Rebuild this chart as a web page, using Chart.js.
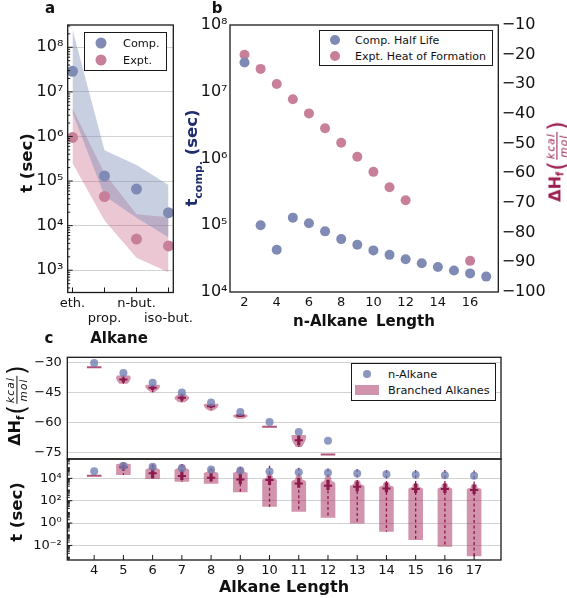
<!DOCTYPE html>
<html>
<head>
<meta charset="utf-8">
<title>Alkane half lives and heats of formation</title>
<script src="https://cdn.jsdelivr.net/npm/chart.js@4.4.0/dist/chart.umd.min.js"></script>
<style>
  html, body { margin: 0; padding: 0; background: #fff; }
  #fig { position: relative; width: 567px; height: 598px; overflow: hidden;
         font-family: "DejaVu Sans", sans-serif; color: #111; }
  #fig canvas { position: absolute; }
  .t { position: absolute; white-space: nowrap; line-height: 1; }
  .c { transform: translate(-50%, -50%); }
  .r { transform: translate(-50%, -50%) rotate(-90deg); }
  .b { font-weight: bold; }
  .box { position: absolute; border: 1.3px solid #1a1a1a; background: #fff; box-sizing: border-box; }
  .dot { position: absolute; border-radius: 50%; transform: translate(-50%, -50%); }
  .leg { position: absolute; font-size: 11.3px; transform: translateY(-50%); white-space: nowrap; }
  .dh { display: inline-flex; align-items: center; font-weight: bold; }
  .dh sub { font-size: 62%; vertical-align: -0.35em; }
  .paren { font-weight: normal; font-size: 25px; line-height: 1; margin: 0 1px; }
  .frac { display: inline-flex; flex-direction: column; align-items: center; font-style: italic;
          font-weight: normal; font-size: 10.5px; letter-spacing: 1.2px; line-height: 1.15; }
  .frac span:first-child { border-bottom: 1.4px solid currentColor; padding: 0 1px; }
</style>
</head>
<body>
<div id="fig">
  <canvas id="chartA" width="205" height="330" style="left:0;top:0"></canvas>
  <canvas id="chartB" width="387" height="315" style="left:180px;top:0"></canvas>
  <canvas id="chartC1" width="567" height="140" style="left:0;top:340px"></canvas>
  <canvas id="chartC2" width="567" height="158" style="left:0;top:440px"></canvas>

  <!-- panel letters and axis titles -->
  <div class="t c b" style="left:50px;top:8px;font-size:15px">a</div>
  <div class="t c b" style="left:217px;top:8px;font-size:15px">b</div>
  <div class="t c b" style="left:49px;top:338px;font-size:15px">c</div>

  <div class="t r b" style="left:27px;top:163px;font-size:16.5px">t (sec)</div>
  <div class="t c b" style="left:119px;top:338px;font-size:15px">Alkane</div>

  <div class="t r b" style="left:194px;top:158px;font-size:16.5px;color:#1f2d6e">t<sub style="font-size:11px">comp.</sub> (sec)</div>
  <div class="t r" style="left:557px;top:161px;color:#9a1d50">
    <span class="dh"><span style="font-size:16px">ΔH<sub>f</sub></span><span class="paren">(</span><span class="frac"><span>kcal</span><span>mol</span></span><span class="paren">)</span></span>
  </div>
  <div class="t c b" style="left:364px;top:321px;font-size:15px;word-spacing:3px">n-Alkane Length</div>

  <div class="t r" style="left:17px;top:405px">
    <span class="dh"><span style="font-size:16px">ΔH<sub>f</sub></span><span class="paren">(</span><span class="frac"><span>kcal</span><span>mol</span></span><span class="paren">)</span></span>
  </div>
  <div class="t r b" style="left:17px;top:512px;font-size:16.5px">t (sec)</div>
  <div class="t c b" style="left:284px;top:587px;font-size:16px">Alkane Length</div>

  <!-- legends -->
  <div class="box" style="left:84px;top:31.5px;width:83px;height:39px"></div>
  <div class="dot" style="left:101px;top:42.5px;width:11px;height:11px;background:#7f8bb4"></div>
  <div class="dot" style="left:101px;top:60px;width:11px;height:11px;background:#c8809a"></div>
  <div class="leg" style="left:123px;top:42.5px">Comp.</div>
  <div class="leg" style="left:123px;top:60px">Expt.</div>

  <div class="box" style="left:319px;top:30px;width:174px;height:36px"></div>
  <div class="dot" style="left:335px;top:39.5px;width:10px;height:10px;background:#7f8bb4"></div>
  <div class="dot" style="left:335px;top:56px;width:10px;height:10px;background:#c8809a"></div>
  <div class="leg" style="left:355px;top:39.5px;font-size:11px">Comp. Half Life</div>
  <div class="leg" style="left:355px;top:56px;font-size:11px">Expt. Heat of Formation</div>

  <div class="box" style="left:350.5px;top:363px;width:145.5px;height:38px"></div>
  <div class="dot" style="left:367px;top:374px;width:8px;height:8px;background:#8a96bf"></div>
  <div style="position:absolute;left:355px;top:385px;width:24px;height:9.5px;background:rgba(165,40,90,0.5)"></div>
  <div class="leg" style="left:388px;top:374px">n-Alkane</div>
  <div class="leg" style="left:388px;top:390px">Branched Alkanes</div>
</div>

<script>
// ---- panel a: small alkanes ----
const alkaneNames = ['eth.', 'prop.', 'n-but.', 'iso-but.'];
const compHalfLife = [2.9e7, 1.3e5, 6.6e4, 1.95e4];
const exptHalfLife = [9.5e5, 4.5e4, 5.0e3, 3.5e3];
const compBandHigh = [2.5e8, 4.9e5, 2.3e5, 8.1e4];
const compBandLow = [3.4e6, 4.7e4, 1.5e4, 5.5e3];
const exptBandHigh = [4.2e6, 1.5e5, 1.8e4, 1.55e4];
const exptBandLow = [2.5e5, 1.3e4, 1.9e3, 9.0e2];

// ---- panel b: n-alkanes ----
const chainLength = [2, 3, 4, 5, 6, 7, 8, 9, 10, 11, 12, 13, 14, 15, 16, 17];
const compHalfLifeN = [2.75e7, 1.0e5, 4.3e4, 1.3e5, 1.07e5, 8.1e4, 6.2e4, 5.1e4,
                       4.2e4, 3.6e4, 3.1e4, 2.7e4, 2.37e4, 2.1e4, 1.9e4, 1.7e4];
const heatLength = [2, 3, 4, 5, 6, 7, 8, 9, 10, 11, 12, 16];
const heatFormation = [-20.0, -24.8, -29.9, -35.0, -39.8, -44.8, -49.7, -54.4, -59.5, -64.7, -69.1, -89.5];
const lengthTicks = [2, 4, 6, 8, 10, 12, 14, 16];

// ---- panel c (top): heats of formation, n-alkane vs branched isomers ----
const heatBrLength = [4, 5, 6, 7, 8, 9, 10, 11, 12];
const nAlkaneHeat = [-30.0, -35.1, -39.9, -44.8, -49.8, -54.6, -59.6, -64.7, -69.1];
const heatBrMax = [-32.2, -36.3, -41.0, -45.5, -50.5, -55.5, -62.0, -66.2, -76.0];
const heatBrMin = [-32.2, -40.5, -44.7, -49.7, -53.9, -58.0, -62.0, -72.2, -76.0];
const heatBrMode = [-32.2, -37.3, -41.6, -47.6, -51.2, -56.6, -62.0, -67.0, -76.0];
const heatBrDensTop = [1, 0.85, 0.9, 0.35, 0.9, 0.5, 1, 0.95, 1];
const heatBrDensBot = [1, 0.55, 0.25, 0.4, 0.35, 0.4, 1, 0.4, 1];
const heatBrMedian = [-32.2, -38.3, -42.5, -47.5, -51.7, -56.5, -62.0, -68.8, -76.0];
const heatBrQ3 = [-32.2, -37.3, -41.6, -46.2, -50.9, -55.9, -62.0, -66.6, -76.0];
const heatBrQ1 = [-32.2, -39.8, -43.6, -48.8, -52.8, -57.2, -62.0, -71.5, -76.0];
const heatTicks = [-30, -45, -60, -75];

// ---- panel c (bottom): half lives, log10(seconds) for branched isomers ----
const brLength = [4, 5, 6, 7, 8, 9, 10, 11, 12, 13, 14, 15, 16, 17];
const brTopLog = [4.24, 5.43, 5.25, 5.28, 4.89, 4.95, 4.36, 4.30, 4.24, 3.85, 3.70, 3.55, 3.55, 3.50];
const brShoulderLog = [4.24, 5.25, 4.75, 4.75, 4.45, 4.45, 3.85, 3.70, 3.55, 3.30, 3.20, 3.05, 3.05, 3.00];
const brMinLog = [4.24, 4.30, 3.94, 3.70, 3.52, 2.75, 1.46, 1.01, 0.48, -0.03, -0.78, -1.52, -2.12, -2.96];
const brMaxLog = [4.24, 5.43, 5.25, 5.28, 4.95, 5.04, 5.13, 4.95, 4.89, 4.83, 4.74, 4.74, 4.74, 4.70];
const brMedianLog = [4.24, 5.00, 4.45, 4.21, 4.06, 3.90, 3.85, 3.55, 3.34, 3.25, 3.10, 3.04, 3.04, 2.95];
const brQ3Log = [4.24, 5.20, 4.89, 4.75, 4.45, 4.40, 4.24, 4.05, 3.85, 3.70, 3.60, 3.55, 3.55, 3.45];
const brQ1Log = [4.24, 4.70, 4.00, 3.85, 3.75, 3.50, 3.40, 3.15, 2.95, 2.85, 2.75, 2.70, 2.70, 2.60];
const halfLifeTicks = [1e-2, 1, 1e2, 1e4];

// ---- styles ----
const FONT = "'DejaVu Sans', sans-serif";
const INK = '#111';
const GRID = '#d2d2d2';
const DOT_BLUE = '#7f8bb4';
const DOT_PINK = '#c8809a';
const DOT_C = 'rgba(110, 126, 175, 0.78)';
const BAND_BLUE = 'rgba(110, 130, 175, 0.38)';
const BAND_PINK = 'rgba(190, 70, 110, 0.3)';
const BODY = 'rgba(165, 40, 90, 0.5)';
const CRIMSON = '#8c1a4c';

Chart.defaults.font.family = FONT;
Chart.defaults.color = INK;

const SUP = { '0': '⁰', '1': '¹', '2': '²', '3': '³', '4': '⁴', '5': '⁵', '6': '⁶', '7': '⁷', '8': '⁸', '9': '⁹', '-': '⁻' };
const pow10 = v => '10' + String(Math.round(Math.log10(v))).split('').map(c => SUP[c]).join('');
const minus = v => (v < 0 ? '−' + Math.abs(v) : String(v));

function minorLog(lo, hi) {
  const out = [];
  for (let e = Math.floor(Math.log10(lo)); e <= Math.ceil(Math.log10(hi)); e++) {
    for (let k = 2; k <= 9; k++) {
      const v = k * 10 ** e;
      if (v > lo && v < hi) out.push(v);
    }
  }
  return out;
}

// box round the plot area
const frame = {
  id: 'frame',
  afterDraw(chart) {
    const { ctx, chartArea: a } = chart;
    ctx.save();
    ctx.strokeStyle = '#1a1a1a';
    ctx.lineWidth = 1.3;
    ctx.strokeRect(a.left, a.top, a.right - a.left, a.bottom - a.top);
    ctx.restore();
  }
};

// small tick marks pointing into the plot
const innerTicks = {
  id: 'innerTicks',
  afterDraw(chart, args, opts) {
    const { ctx, chartArea: a } = chart;
    const xs = chart.scales.x, ys = chart.scales.y;
    ctx.save();
    ctx.strokeStyle = '#1a1a1a';
    ctx.lineWidth = 1;
    ctx.beginPath();
    (opts.yMajor || []).forEach(v => {
      const p = ys.getPixelForValue(v);
      ctx.moveTo(a.left, p); ctx.lineTo(a.left + 5, p);
    });
    (opts.yMinor || []).forEach(v => {
      const p = ys.getPixelForValue(v);
      ctx.moveTo(a.left, p); ctx.lineTo(a.left + 2.5, p);
    });
    (opts.xMajor || []).forEach(v => {
      const p = xs.getPixelForValue(v);
      ctx.moveTo(p, a.bottom); ctx.lineTo(p, a.bottom - 5);
    });
    ctx.stroke();
    ctx.restore();
  }
};

function drawBody(ctx, xs, ys, cx, profile) {
  const half = 0.25;
  ctx.beginPath();
  profile.forEach(([v, w], i) => {
    const px = xs.getPixelForValue(cx + w * half), py = ys.getPixelForValue(v);
    if (i) ctx.lineTo(px, py); else ctx.moveTo(px, py);
  });
  for (let i = profile.length - 1; i >= 0; i--) {
    const [v, w] = profile[i];
    ctx.lineTo(xs.getPixelForValue(cx - w * half), ys.getPixelForValue(v));
  }
  ctx.closePath();
  ctx.fillStyle = BODY;
  ctx.fill();
}

function drawMarks(ctx, xs, ys, cx, lo, hi, q1, q3, med) {
  const x = xs.getPixelForValue(cx);
  ctx.strokeStyle = CRIMSON;
  ctx.lineWidth = 1.3;
  ctx.setLineDash([3, 2.5]);
  ctx.beginPath();
  ctx.moveTo(x, ys.getPixelForValue(hi)); ctx.lineTo(x, ys.getPixelForValue(lo));
  ctx.stroke();
  ctx.setLineDash([]);
  ctx.lineWidth = 3.2;
  ctx.beginPath();
  ctx.moveTo(x, ys.getPixelForValue(q3)); ctx.lineTo(x, ys.getPixelForValue(q1));
  ctx.stroke();
  ctx.lineWidth = 2;
  ctx.beginPath();
  const y = ys.getPixelForValue(med);
  ctx.moveTo(xs.getPixelForValue(cx - 0.14), y); ctx.lineTo(xs.getPixelForValue(cx + 0.14), y);
  ctx.stroke();
}

function drawFlat(ctx, xs, ys, cx, v) {
  const y = ys.getPixelForValue(v);
  ctx.strokeStyle = 'rgba(150, 25, 75, 0.75)';
  ctx.lineWidth = 2;
  ctx.beginPath();
  ctx.moveTo(xs.getPixelForValue(cx - 0.25), y); ctx.lineTo(xs.getPixelForValue(cx + 0.25), y);
  ctx.stroke();
}

const heatViolins = {
  id: 'heatViolins',
  beforeDatasetsDraw(chart) {
    const { ctx, chartArea: a } = chart;
    const xs = chart.scales.x, ys = chart.scales.y;
    ctx.save();
    ctx.beginPath(); ctx.rect(a.left, a.top, a.right - a.left, a.bottom - a.top); ctx.clip();
    heatBrLength.forEach((n, i) => {
      if (heatBrMax[i] === heatBrMin[i]) { drawFlat(ctx, xs, ys, n, heatBrMax[i]); return; }
      const prof = [], steps = 16;
      for (let k = 0; k <= steps; k++) {
        const t = k / steps;
        prof.push([heatBrMin[i] + t * (heatBrMode[i] - heatBrMin[i]),
                   heatBrDensBot[i] + (1 - heatBrDensBot[i]) * Math.sin(t * Math.PI / 2)]);
      }
      for (let k = 1; k <= steps; k++) {
        const t = k / steps;
        prof.push([heatBrMode[i] + t * (heatBrMax[i] - heatBrMode[i]),
                   1 - (1 - heatBrDensTop[i]) * (1 - Math.cos(t * Math.PI / 2))]);
      }
      drawBody(ctx, xs, ys, n, prof);
      drawMarks(ctx, xs, ys, n, heatBrMin[i], heatBrMax[i], heatBrQ1[i], heatBrQ3[i], heatBrMedian[i]);
    });
    ctx.restore();
  }
};

const lifeViolins = {
  id: 'lifeViolins',
  beforeDatasetsDraw(chart) {
    const { ctx, chartArea: a } = chart;
    const xs = chart.scales.x, ys = chart.scales.y;
    const smooth = t => t * t * (3 - 2 * t);
    ctx.save();
    ctx.beginPath(); ctx.rect(a.left, a.top, a.right - a.left, a.bottom - a.top); ctx.clip();
    brLength.forEach((n, i) => {
      if (brTopLog[i] === brMinLog[i]) { drawFlat(ctx, xs, ys, n, 10 ** brTopLog[i]); return; }
      const prof = [[10 ** brMinLog[i], 1], [10 ** brShoulderLog[i], 1]];
      const steps = 24;
      for (let k = 1; k <= steps; k++) {
        const t = k / steps;
        const neck = 0.45 + 0.55 * (1 - smooth(Math.min(t / 0.45, 1)));
        const w = neck * Math.sqrt(Math.max(0, 1 - t ** 6));
        prof.push([10 ** (brShoulderLog[i] + t * (brTopLog[i] - brShoulderLog[i])), w]);
      }
      drawBody(ctx, xs, ys, n, prof);
      drawMarks(ctx, xs, ys, n, 10 ** brMinLog[i], 10 ** brMaxLog[i],
                10 ** brQ1Log[i], 10 ** brQ3Log[i], 10 ** brMedianLog[i]);
    });
    ctx.restore();
  }
};

const base = {
  responsive: false,
  animation: false,
  events: [],
  plugins: { legend: { display: false }, tooltip: { enabled: false } }
};
const smallTick = { family: FONT, size: 13, lineHeight: 1.1 };
const bigTick = { family: FONT, size: 16 };

const pts = (xs, ys) => ys.map((y, i) => ({ x: xs[i], y }));
const band = (vals, color, fill) => ({
  type: 'line', data: vals.map((y, i) => ({ x: i, y })), fill, backgroundColor: color,
  borderColor: 'transparent', borderWidth: 0, pointRadius: 0, tension: 0, order: 2
});
const dots = (data, color, r, axis) => ({
  type: 'scatter', data, backgroundColor: color, borderWidth: 0, pointRadius: r,
  yAxisID: axis || 'y', order: 0
});

// ---- panel a ----
new Chart(document.getElementById('chartA'), {
  type: 'line',
  data: {
    datasets: [
      band(compBandHigh, BAND_BLUE, '+1'),
      band(compBandLow, 'transparent', false),
      band(exptBandHigh, BAND_PINK, '+1'),
      band(exptBandLow, 'transparent', false),
      dots(compHalfLife.map((y, i) => ({ x: i, y })), DOT_BLUE, 5.5),
      dots(exptHalfLife.map((y, i) => ({ x: i, y })), DOT_PINK, 5.5)
    ]
  },
  options: {
    ...base,
    layout: { padding: { left: 0, top: 25, right: 31.7, bottom: 0 } },
    scales: {
      x: {
        type: 'linear', min: -0.15, max: 3.15,
        afterBuildTicks: s => { s.ticks = alkaneNames.map((n, i) => ({ value: i })); },
        afterFit: s => { s.height = 37.5; },
        grid: { display: false, drawTicks: false }, border: { display: false },
        ticks: { font: smallTick, padding: 4.3, autoSkip: false, maxRotation: 0,
                 callback: v => (v % 2 ? ['', alkaneNames[v]] : alkaneNames[v]) }
      },
      y: {
        type: 'logarithmic', min: 10 ** 2.5, max: 10 ** 8.5,
        afterBuildTicks: s => { s.ticks = [1e3, 1e4, 1e5, 1e6, 1e7, 1e8].map(value => ({ value })); },
        afterFit: s => { s.width = 67.7; },
        grid: { color: GRID, drawTicks: false }, border: { display: false },
        ticks: { font: bigTick, padding: 4.4, callback: v => pow10(v) }
      }
    },
    plugins: {
      ...base.plugins,
      innerTicks: { yMajor: [1e3, 1e4, 1e5, 1e6, 1e7, 1e8], yMinor: minorLog(10 ** 2.5, 10 ** 8.5), xMajor: [0, 1, 2, 3] }
    }
  },
  plugins: [frame, innerTicks]
});

// ---- panel b ----
new Chart(document.getElementById('chartB'), {
  type: 'scatter',
  data: {
    datasets: [
      dots(pts(chainLength, compHalfLifeN), DOT_BLUE, 5),
      dots(pts(heatLength, heatFormation), DOT_PINK, 5, 'y2')
    ]
  },
  options: {
    ...base,
    layout: { padding: { left: 0, top: 25, right: 0, bottom: 0 } },
    scales: {
      x: {
        type: 'linear', min: 1.1, max: 17.75,
        afterBuildTicks: s => { s.ticks = lengthTicks.map(value => ({ value })); },
        afterFit: s => { s.height = 23; },
        grid: { display: false, drawTicks: false }, border: { display: false },
        ticks: { font: smallTick, padding: 3.9, autoSkip: false, maxRotation: 0 }
      },
      y: {
        type: 'logarithmic', position: 'left', min: 1e4, max: 1e8,
        afterBuildTicks: s => { s.ticks = [1e4, 1e5, 1e6, 1e7, 1e8].map(value => ({ value })); },
        afterFit: s => { s.width = 50; },
        grid: { display: false, drawTicks: false }, border: { display: false },
        ticks: { font: bigTick, padding: 2.5, callback: v => pow10(v) }
      },
      y2: {
        type: 'linear', position: 'right', min: -100, max: -10,
        afterFit: s => { s.width = 68.7; },
        grid: { display: false, drawTicks: false }, border: { display: false },
        ticks: { font: bigTick, padding: 3.4, stepSize: 10, callback: v => minus(v) }
      }
    }
  },
  plugins: [frame]
});

// ---- panel c, top ----
new Chart(document.getElementById('chartC1'), {
  type: 'scatter',
  data: { datasets: [dots(pts(heatBrLength, nAlkaneHeat), DOT_C, 4)] },
  options: {
    ...base,
    layout: { padding: { left: 0, top: 17.3, right: 66, bottom: 21 } },
    scales: {
      x: { type: 'linear', min: 3.08, max: 17.92, display: false },
      y: {
        type: 'linear', min: -78.25, max: -27.15,
        afterBuildTicks: s => { s.ticks = heatTicks.map(value => ({ value })); },
        afterFit: s => { s.width = 67.3; },
        grid: { color: GRID, drawTicks: false }, border: { display: false },
        ticks: { font: smallTick, padding: 5.5, callback: v => minus(v) }
      }
    }
  },
  plugins: [heatViolins, frame]
});

// ---- panel c, bottom ----
new Chart(document.getElementById('chartC2'), {
  type: 'scatter',
  data: { datasets: [dots(pts(brLength, compHalfLifeN.slice(2)), DOT_C, 4)] },
  options: {
    ...base,
    layout: { padding: { left: 0, top: 19, right: 66, bottom: 0 } },
    scales: {
      x: {
        type: 'linear', min: 3.08, max: 17.92,
        afterBuildTicks: s => { s.ticks = brLength.map(value => ({ value })); },
        afterFit: s => { s.height = 38; },
        grid: { display: false, drawTicks: false }, border: { display: false },
        ticks: { font: smallTick, padding: 3.5, autoSkip: false, maxRotation: 0 }
      },
      y: {
        type: 'logarithmic', min: 10 ** -3.3, max: 10 ** 5.73,
        afterBuildTicks: s => { s.ticks = halfLifeTicks.map(value => ({ value })); },
        afterFit: s => { s.width = 67.3; },
        grid: { color: GRID, drawTicks: false }, border: { display: false },
        ticks: { font: smallTick, padding: 5.5, callback: v => pow10(v) }
      }
    },
    plugins: {
      ...base.plugins,
      innerTicks: { yMajor: halfLifeTicks, yMinor: minorLog(10 ** -3.3, 10 ** 5.73), xMajor: brLength }
    }
  },
  plugins: [lifeViolins, frame, innerTicks]
});
</script>
</body>
</html>
